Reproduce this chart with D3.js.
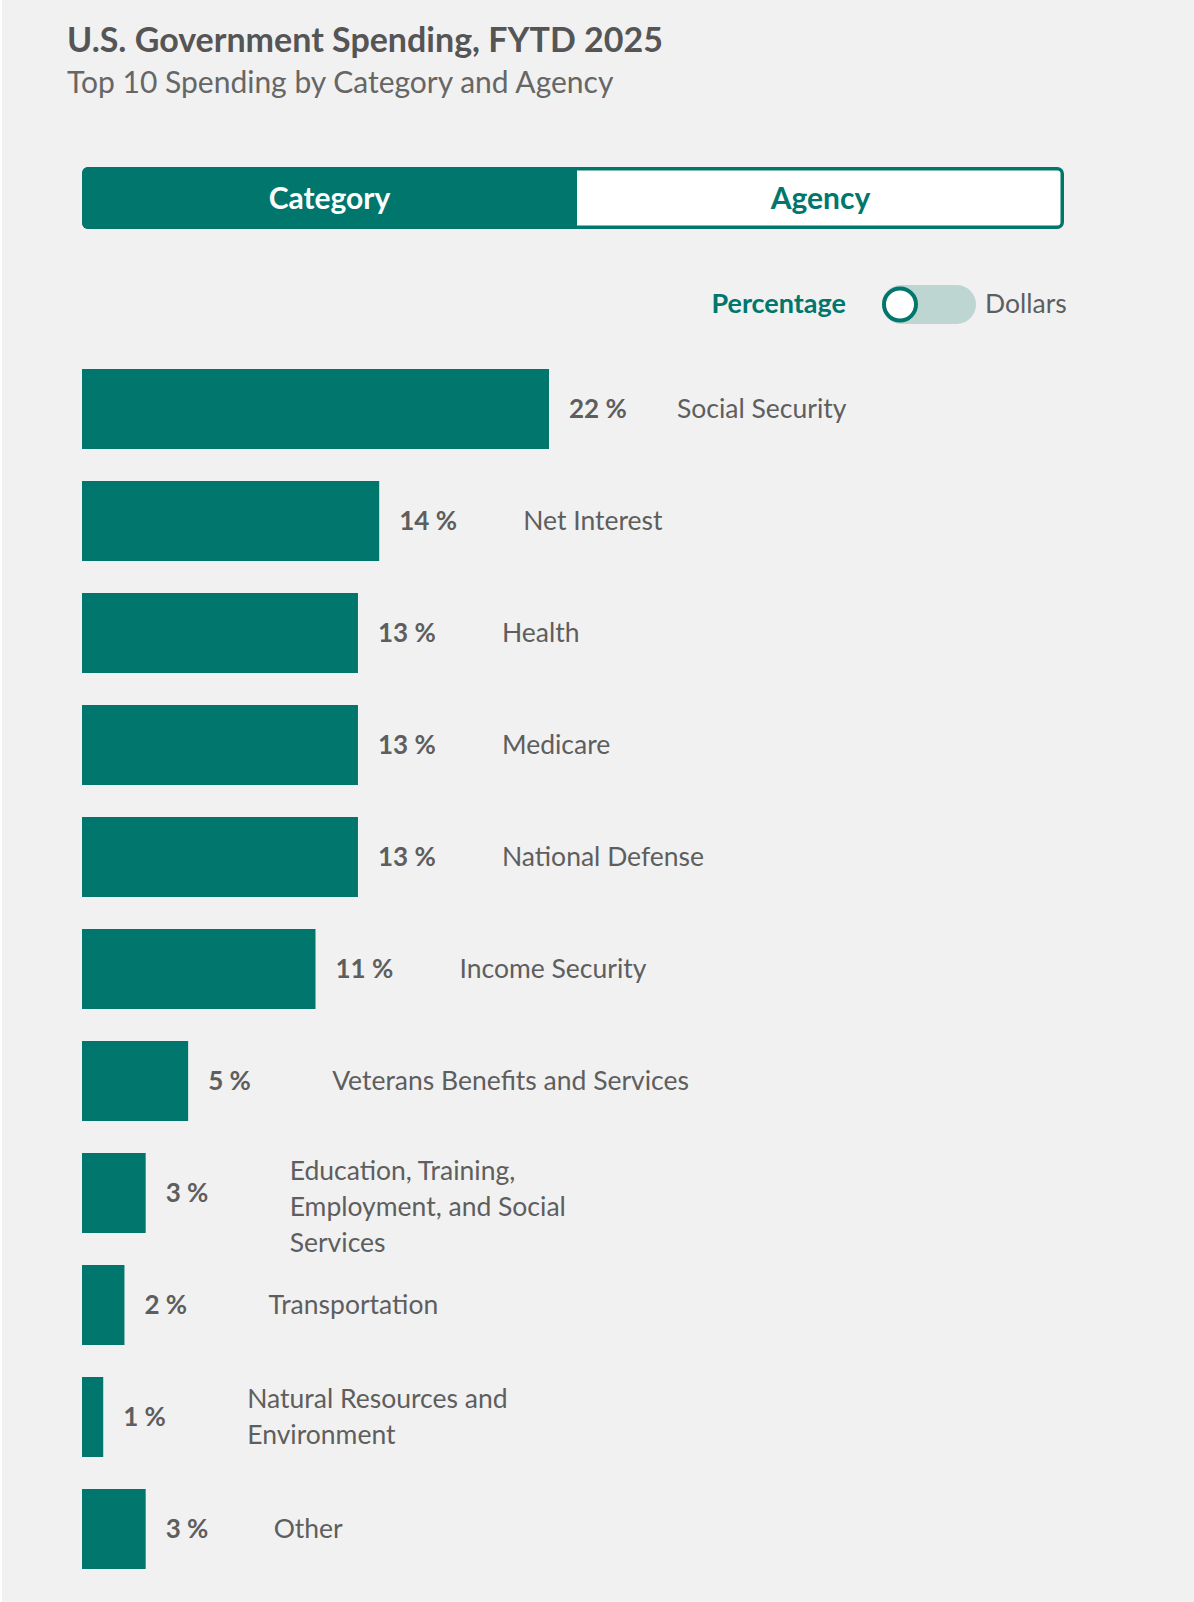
<!DOCTYPE html>
<html>
<head>
<meta charset="utf-8">
<script src="https://cdn.jsdelivr.net/npm/d3@7"></script>
<style>
  body { margin: 0; background: #f1f1f1; }
  svg { display: block; font-family: "Source Sans Pro", Lato, sans-serif; }
</style>
</head>
<body>
<div id="chart"></div>
<script>
// top 10 spending categories, FYTD 2025 (percent of total)
const categories = [
    "Social Security",
    "Net Interest",
    "Health",
    "Medicare",
    "National Defense",
    "Income Security",
    "Veterans Benefits and Services",
    "Education, Training, Employment, and Social Services",
    "Transportation",
    "Natural Resources and Environment",
    "Other"
];
const percentValues = [22, 14, 13, 13, 13, 11, 5, 3, 2, 1, 3];
const tabLabels = ["Category", "Agency"];
const toggleLabels = ["Percentage", "Dollars"];

const teal = "#00766c";
const textGray = "#5e5e5e";

class SpendingChart {
    constructor(parentElement) {
        this.parentElement = parentElement;
        this.data = categories.map((c, i) => ({ name: c, value: percentValues[i] }));
        this.initVis();
        this.updateVis();
    }

    initVis() {
        let vis = this;

        vis.width = 1194;
        vis.height = 1602;
        vis.left = 82;

        vis.svg = d3.select("#" + vis.parentElement)
            .append("svg")
            .attr("width", vis.width)
            .attr("height", vis.height);

        vis.svg.append("rect")
            .attr("width", vis.width).attr("height", vis.height)
            .attr("fill", "#f1f1f1");
        // thin white strip on the left edge
        vis.svg.append("rect")
            .attr("width", 2).attr("height", vis.height)
            .attr("fill", "#ffffff");

        // titles
        vis.svg.append("text")
            .attr("x", 67).attr("y", 52)
            .style("font-size", "34px")
            .style("font-weight", "bold")
            .style("fill", "#555")
            .text("U.S. Government Spending, FYTD 2025");

        vis.svg.append("text")
            .attr("x", 67).attr("y", 93)
            .style("font-size", "30px")
            .style("fill", "#666")
            .text("Top 10 Spending by Category and Agency");

        // tab switch
        let tabX0 = 82, tabX1 = 1064, tabMid = 577, tabY = 167, tabH = 62;
        vis.svg.append("rect")
            .attr("x", tabX0 + 1.75).attr("y", tabY + 1.75)
            .attr("width", tabX1 - tabX0 - 3.5).attr("height", tabH - 3.5)
            .attr("rx", 5)
            .attr("fill", "#fff")
            .attr("stroke", teal)
            .attr("stroke-width", 3.5);
        vis.svg.append("rect")
            .attr("x", tabX0).attr("y", tabY)
            .attr("width", tabMid - tabX0).attr("height", tabH)
            .attr("rx", 6)
            .attr("fill", teal);
        vis.svg.append("rect")
            .attr("x", tabMid - 12).attr("y", tabY)
            .attr("width", 12).attr("height", tabH)
            .attr("fill", teal);

        vis.svg.selectAll(".tab-label")
            .data(tabLabels)
            .enter().append("text")
            .attr("class", "tab-label")
            .attr("x", (d, i) => i === 0 ? (tabX0 + tabMid) / 2 : (tabMid + tabX1) / 2)
            .attr("y", tabY + tabH / 2)
            .attr("dy", "0.35em")
            .attr("text-anchor", "middle")
            .style("font-size", "30px")
            .style("font-weight", "bold")
            .style("fill", (d, i) => i === 0 ? "#fff" : teal)
            .text(d => d);

        // percentage / dollars toggle
        vis.svg.append("text")
            .attr("x", 846).attr("y", 304)
            .attr("dy", "0.35em")
            .attr("text-anchor", "end")
            .style("font-size", "27px")
            .style("font-weight", "bold")
            .style("fill", teal)
            .text(toggleLabels[0]);
        vis.svg.append("rect")
            .attr("x", 882).attr("y", 285)
            .attr("width", 94).attr("height", 39)
            .attr("rx", 19.5)
            .attr("fill", "#bdd6d2");
        vis.svg.append("circle")
            .attr("cx", 900).attr("cy", 304.5)
            .attr("r", 16)
            .attr("fill", "#fff")
            .attr("stroke", teal)
            .attr("stroke-width", 4);
        vis.svg.append("text")
            .attr("x", 985).attr("y", 304)
            .attr("dy", "0.35em")
            .style("font-size", "26.5px")
            .style("fill", textGray)
            .text(toggleLabels[1]);

        // scales
        vis.x = d3.scaleLinear()
            .range([vis.left, 549]);
        vis.y = d3.scaleBand()
            .range([369, 1569])
            .paddingInner(2 / 7)
            .paddingOuter(0);
    }

    updateVis() {
        let vis = this;

        let maxVal = d3.max(vis.data, d => d.value);
        let n = vis.data.length;
        vis.x.domain([0, maxVal]);
        vis.y.domain(vis.data.map(d => d.name));

        let bw = vis.y.bandwidth();

        vis.svg.selectAll(".bar")
            .data(vis.data)
            .enter().append("rect")
            .attr("class", "bar")
            .attr("x", vis.x(0))
            .attr("y", d => vis.y(d.name))
            .attr("width", d => vis.x(d.value) - vis.x(0))
            .attr("height", bw)
            .attr("fill", teal);

        vis.svg.selectAll(".value-label")
            .data(vis.data)
            .enter().append("text")
            .attr("class", "value-label")
            .attr("x", d => vis.x(d.value) + 20)
            .attr("y", d => vis.y(d.name) + bw / 2)
            .attr("dy", "0.35em")
            .style("font-size", "26px")
            .style("font-weight", "bold")
            .style("fill", textGray)
            .text(d => d.value + " %");

        // category names, wrapped when too long
        let lineH = 36;
        let maxW = 367;
        vis.svg.selectAll(".cat-label")
            .data(vis.data)
            .enter().append("text")
            .attr("class", "cat-label")
            .style("font-size", "26.5px")
            .style("fill", textGray)
            .each(function (d, i) {
                let t = d3.select(this);
                // first and last rows sit a little closer to their value label
                let gap = (i === 0 || i === n - 1) ? 128 : 144;
                let cx = vis.x(d.value) + gap;
                let words = d.name.split(" ");
                let lines = [];
                let cur = [];
                let probe = t.append("tspan");
                words.forEach(w => {
                    probe.text(cur.concat(w).join(" "));
                    if (cur.length && probe.node().getComputedTextLength() > maxW) {
                        lines.push(cur.join(" "));
                        cur = [w];
                    } else {
                        cur.push(w);
                    }
                });
                lines.push(cur.join(" "));
                probe.remove();

                let top = vis.y(d.name);
                let mid = top + bw / 2;
                let blockTop = Math.max(top, mid - lines.length * lineH / 2);
                lines.forEach((ln, k) => {
                    t.append("tspan")
                        .attr("x", cx)
                        .attr("y", blockTop + lineH * (k + 0.5))
                        .attr("dy", "0.35em")
                        .text(ln);
                });
            });
    }
}

new SpendingChart("chart");
</script>
</body>
</html>
